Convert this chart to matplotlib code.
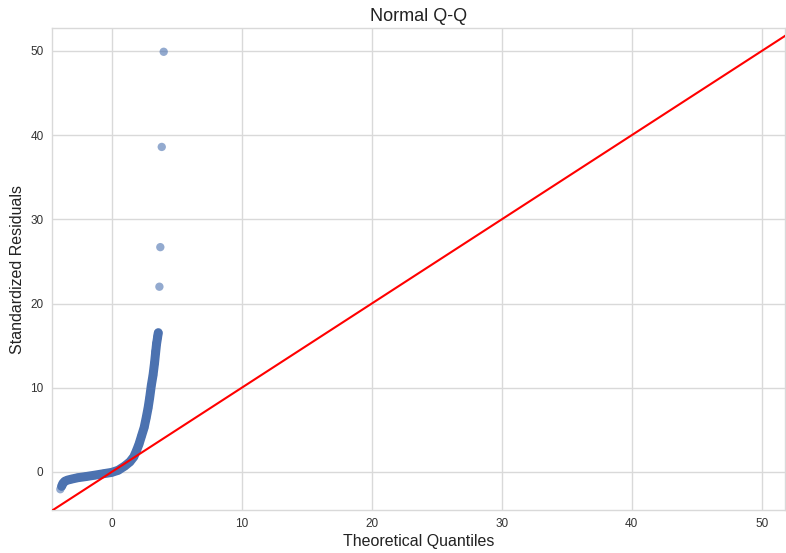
import numpy as np
import matplotlib
matplotlib.use('Agg')
import matplotlib.pyplot as plt

# points (theoretical quantile, standardized residual)
band_q = [-3.85, -3.75, -3.6, -3.4, -3.1, -2.6, -2.0, -1.3, -0.6, 0.0, 0.5, 1.0,
          1.4, 1.7, 1.9, 2.1, 2.3, 2.5, 2.65, 2.8, 2.92, 3.05, 3.18, 3.3, 3.38,
          3.45, 3.52, 3.58]
band_r = [-1.7, -1.35, -1.1, -0.97, -0.85, -0.68, -0.55, -0.38, -0.2, -0.05, 0.2, 0.7,
          1.2, 1.8, 2.5, 3.3, 4.3, 5.3, 6.4, 7.6, 8.8, 10.3, 11.5, 13.0, 14.2,
          15.2, 15.9, 16.5]
sparse_q = [-3.95, -3.8, 3.3, 3.36, 3.44, 3.5, 3.56, 3.59, 3.67, 3.74, 3.85, 4.0]
sparse_r = [-2.05, -1.55, 12.9, 14.3, 15.3, 16.0, 16.3, 16.6, 22.0, 26.7, 38.6, 49.9]

ref_line = [-5, 55]
x_ticks = [0, 10, 20, 30, 40, 50]
y_ticks = [0, 10, 20, 30, 40, 50]

plt.rcParams['font.family'] = ['Liberation Sans', 'DejaVu Sans']

fig = plt.figure(figsize=(7.86, 5.53), dpi=100)
ax = fig.add_axes([0.066, 0.078, 0.933, 0.871])

blue = '#4c72b0'
ax.plot(band_q, band_r, color=blue, lw=6.5, solid_capstyle='round', zorder=2)
ax.scatter(band_q + sparse_q, band_r + sparse_r, s=36, color=blue, alpha=0.6,
           edgecolors='none', zorder=3)
ax.plot(ref_line, ref_line, color='red', lw=1.5, zorder=4)

ax.set_xlim(-4.6, 51.8)
ax.set_ylim(-4.5, 52.7)
ax.set_xticks(x_ticks)
ax.set_yticks(y_ticks)

ax.grid(True, color='#d9d9d9', lw=1)
ax.set_axisbelow(True)
for s in ax.spines.values():
    s.set_color('#d9d9d9')
    s.set_linewidth(1)
ax.tick_params(length=0, labelsize=8.5, labelcolor='#333333', pad=6)

ax.set_title('Normal Q-Q', fontsize=13, color='#222222', pad=5)
ax.set_xlabel('Theoretical Quantiles', fontsize=11.5, color='#222222', labelpad=3)
ax.set_ylabel('Standardized Residuals', fontsize=11.5, color='#222222', labelpad=4)

fig.savefig('out.png', dpi=100)
